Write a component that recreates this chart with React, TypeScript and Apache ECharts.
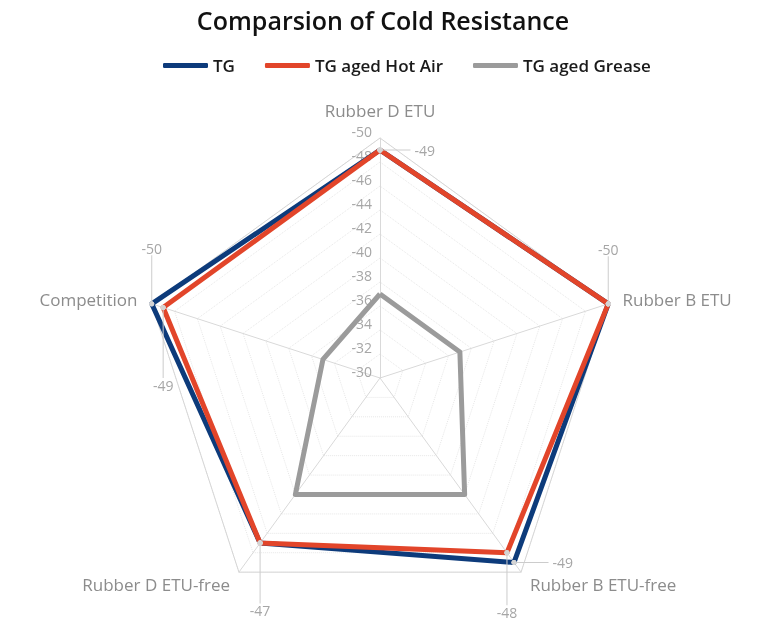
import React, { useEffect, useRef } from "react";
import * as echarts from "echarts";

const FONT = "'Open Sans', 'DejaVu Sans', sans-serif";

// Indicators in ECharts' (counter-clockwise) order starting at the top
const indicators = ["Rubber D ETU", "Competition", "Rubber D ETU-free", "Rubber B ETU-free", "Rubber B ETU"];
const seriesNames = ["TG", "TG aged Hot Air", "TG aged Grease"];
const tgValues = [-49, -50, -47, -49, -50];
const hotAirValues = [-49, -49, -47, -48, -50];
const greaseValues = [-37, -35, -42, -42, -37];
const axisMin = -30;
const axisMax = -50;
const tickStep = 2;

const colors = ["#0d3b7b", "#e2452a", "#9b9b9b"];

// which series' value label is shown at which indicator (index into seriesNames)
const labelSpecs = [
  { series: 1, dim: 0, pos: "right", len: 28 },
  { series: 0, dim: 3, pos: "right", len: 32 },
  { series: 1, dim: 4, pos: "top", len: 45 },
  { series: 0, dim: 1, pos: "top", len: 46 },
  { series: 1, dim: 1, pos: "bottom", len: 68 },
  { series: 1, dim: 3, pos: "bottom", len: 50 },
  { series: 0, dim: 2, pos: "bottom", len: 58 },
];

const allValues = [tgValues, hotAirValues, greaseValues];
const toRadius = (arr: number[]) => arr.map((v) => -v);

export default function App() {
  const ref = useRef<HTMLDivElement>(null);
  useEffect(() => {
    document.body.style.margin = "0";
    const chart = echarts.init(ref.current!, undefined, { renderer: "svg" });
    const labelColor = "#a6a6a6";
    const leaderColor = "#cccccc";
    const indicatorDefs = indicators.map((name, i) => ({
      name,
      min: -axisMin,
      max: -axisMax,
      nameGap: i === 0 ? 19 : 15,
      axisLabel: { show: i === 0 },
    }));
    const carrierData = labelSpecs.map((s) => {
      const text = String(allValues[s.series][s.dim]);
      let rich = "";
      if (s.pos === "right") rich = `{ln|}{t|${text}}`;
      else if (s.pos === "top") rich = `{t|${text}}\n{vl|}`;
      else rich = `{vl|}\n{t|${text}}`;
      return {
        value: toRadius(allValues[s.series]),
        label: {
          show: true,
          position: s.pos,
          distance: 0,
          formatter: (p: any) => (p.dimensionIndex === s.dim ? rich : ""),
          rich: {
            t: { color: labelColor, fontSize: 14, fontFamily: FONT, padding: s.pos === "right" ? [0, 0, 0, 4] : [0, 0, 0, 0] },
            ln: { width: s.len, height: 1, backgroundColor: leaderColor },
            vl: { width: 1, height: s.len, backgroundColor: leaderColor },
          },
        },
      };
    });
    chart.setOption({
      animation: false,
      title: {
        text: "Comparsion of Cold Resistance",
        left: "center",
        top: 2,
        textStyle: { fontSize: 25, fontWeight: 600, color: "#111", fontFamily: FONT },
      },
      legend: {
        data: seriesNames,
        top: 52,
        left: 158,
        icon: "roundRect",
        itemWidth: 45,
        itemHeight: 5,
        itemGap: 30,
        textStyle: { fontSize: 17, fontWeight: 600, color: "#1a1a1a", fontFamily: FONT },
      },
      radar: [
        {
          center: [380, 378],
          radius: 240,
          shape: "polygon",
          startAngle: 90,
          splitNumber: (axisMin - axisMax) / tickStep,
          indicator: indicatorDefs,
          nameGap: 15,
          axisName: { color: "#8c8c8c", fontSize: 17, fontFamily: FONT },
          axisLine: { lineStyle: { color: "#d9d9d9", width: 1 } },
          axisTick: { show: false },
          splitLine: { lineStyle: { color: "#e6e6e6", type: "dotted", width: 1 } },
          splitArea: { show: false },
          axisLabel: {
            show: false,
            color: labelColor,
            fontSize: 14,
            fontFamily: FONT,
            verticalAlign: "bottom",
            formatter: (v: number) => String(-v),
          },
        },
        {
          center: [380, 378],
          radius: 240,
          shape: "polygon",
          startAngle: 90,
          splitNumber: 1,
          indicator: indicators.map((name) => ({ name, min: -axisMin, max: -axisMax })),
          axisName: { show: false },
          axisLine: { show: false },
          axisTick: { show: false },
          axisLabel: { show: false },
          splitLine: { lineStyle: { color: "#d6d6d6", width: 1 } },
          splitArea: { show: false },
        },
      ],
      series: [
        ...seriesNames.map((name, i) => ({
          type: "radar",
          name,
          radarIndex: 0,
          symbol: "none",
          itemStyle: { color: colors[i] },
          lineStyle: { color: colors[i], width: 5 },
          data: [{ value: toRadius(allValues[i]), name }],
        })),
        {
          type: "radar",
          name: "labels",
          radarIndex: 0,
          symbol: "circle",
          symbolSize: 5,
          silent: true,
          itemStyle: { color: "#d4d4d4" },
          lineStyle: { width: 0, opacity: 0 },
          data: carrierData,
        },
      ],
    });
    return () => chart.dispose();
  }, []);
  return <div ref={ref} style={{ width: 766, height: 630, position: "fixed", left: 0, top: 0 }} />;
}
